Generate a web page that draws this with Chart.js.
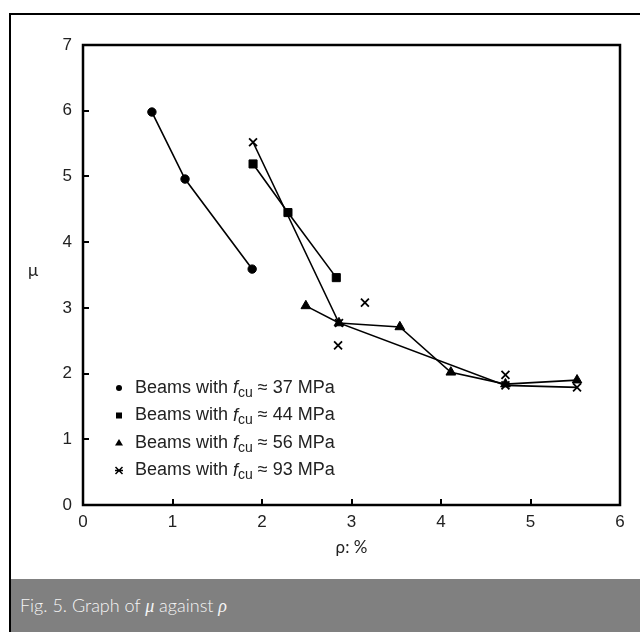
<!DOCTYPE html>
<html>
<head>
<meta charset="utf-8">
<script src="https://cdn.jsdelivr.net/npm/chart.js@4.4.1/dist/chart.umd.min.js"></script>
<style>
  html, body { margin: 0; padding: 0; background: #fff; }
  #wrap { position: relative; width: 640px; height: 632px; overflow: hidden; }
  #frame { position: absolute; left: 9px; top: 13px; width: 650px; height: 640px;
           border-left: 2.5px solid #000; border-top: 2.5px solid #000; }
  #cap { position: absolute; left: 11px; top: 579px; right: 0; bottom: 0; background: #808080;
         color: #f5f5f5; font: 300 18px Lato, 'Open Sans', sans-serif; padding-left: 9px; line-height: 53px; }
  #cap i { font-family: 'Liberation Serif', 'DejaVu Serif', serif; }
  #chart { position: absolute; left: 0; top: 0; }
</style>
</head>
<body>
<div id="wrap">
  <div id="frame"></div>
  <div id="cap">Fig. 5. Graph of <i>μ</i> against <i>ρ</i></div>
  <canvas id="chart" width="640" height="575"></canvas>
</div>
<script>
// ---- data ----
const rho37 = [0.77, 1.14, 1.89];
const mu37  = [5.98, 4.96, 3.59];
const rho44 = [1.90, 2.29, 2.83];
const mu44  = [5.19, 4.45, 3.46];
const rho56 = [2.49, 2.86, 3.54, 4.11, 4.72, 5.52];
const mu56  = [3.03, 2.77, 2.71, 2.02, 1.84, 1.90];
const rho93 = [1.90, 2.86, 4.72, 5.52];
const mu93  = [5.52, 2.77, 1.82, 1.79];
// single 93 MPa beams plotted without a line
const rho93Single = [2.85, 3.15, 4.72];
const mu93Single  = [2.43, 3.08, 1.98];

const xTicks = [0, 1, 2, 3, 4, 5, 6];
const yTicks = [0, 1, 2, 3, 4, 5, 6, 7];
const legendLabels = ['37', '44', '56', '93'];

const TXT = '#222';
const SANS = "'Liberation Sans', Arial, sans-serif";

function pts(xs, ys) { return xs.map((x, i) => ({ x: x, y: ys[i] })); }

function series(xs, ys, style, radius, line) {
  return {
    data: pts(xs, ys),
    showLine: line,
    borderColor: '#000',
    borderWidth: 1.6,
    pointStyle: style,
    pointRadius: radius,
    pointBackgroundColor: '#000',
    pointBorderColor: '#000',
    pointBorderWidth: style === 'crossRot' ? 1.8 : 1
  };
}

// small marker for legend rows
function marker(ctx, style, x, y) {
  ctx.beginPath();
  if (style === 'circle') {
    ctx.arc(x, y, 3, 0, Math.PI * 2); ctx.fill();
  } else if (style === 'rect') {
    ctx.fillRect(x - 3, y - 3, 6, 6);
  } else if (style === 'triangle') {
    ctx.moveTo(x, y - 4); ctx.lineTo(x + 4, y + 2.5); ctx.lineTo(x - 4, y + 2.5); ctx.closePath(); ctx.fill();
  } else {
    ctx.lineWidth = 1.5;
    ctx.moveTo(x - 3.5, y - 3.5); ctx.lineTo(x + 3.5, y + 3.5);
    ctx.moveTo(x + 3.5, y - 3.5); ctx.lineTo(x - 3.5, y + 3.5);
    ctx.moveTo(x - 4, y); ctx.lineTo(x + 4, y);
    ctx.stroke();
  }
}

function richText(ctx, x, y, parts) {
  parts.forEach(p => {
    ctx.font = p.font;
    ctx.fillText(p.t, x, y + (p.dy || 0));
    x += ctx.measureText(p.t).width;
  });
}

const decor = {
  id: 'decor',
  afterDraw(chart) {
    const { ctx, chartArea: a, scales: { x, y } } = chart;
    ctx.save();
    ctx.strokeStyle = '#000';
    ctx.lineWidth = 2.5;
    ctx.strokeRect(a.left, a.top, a.right - a.left, a.bottom - a.top);

    // inward ticks
    ctx.lineWidth = 2;
    ctx.beginPath();
    xTicks.slice(1, -1).forEach(v => {
      const px = Math.round(x.getPixelForValue(v));
      ctx.moveTo(px, a.bottom); ctx.lineTo(px, a.bottom - 6);
    });
    yTicks.slice(1, -1).forEach(v => {
      const py = Math.round(y.getPixelForValue(v));
      ctx.moveTo(a.left, py); ctx.lineTo(a.left + 6, py);
    });
    ctx.stroke();

    // axis titles
    ctx.fillStyle = TXT;
    ctx.textAlign = 'center';
    ctx.textBaseline = 'middle';
    ctx.font = "17px Lato, 'Open Sans', sans-serif";
    ctx.fillText('ρ: %', (a.left + a.right) / 2, 548);
    ctx.fillText('μ', 33, 271);

    // legend
    const styles = ['circle', 'rect', 'triangle', 'crossRot'];
    const rowY = [388, 415.5, 443, 470.5];
    ctx.textAlign = 'left';
    legendLabels.forEach((lab, i) => {
      ctx.fillStyle = '#000';
      ctx.strokeStyle = '#000';
      marker(ctx, styles[i], 119, rowY[i]);
      ctx.fillStyle = TXT;
      richText(ctx, 135, rowY[i], [
        { t: 'Beams with ', font: '18px ' + SANS },
        { t: 'f', font: 'italic 18px ' + SANS },
        { t: 'cu', font: '14px ' + SANS, dy: 5 },
        { t: ' ≈ ' + lab + ' MPa', font: '18px ' + SANS }
      ]);
    });
    ctx.restore();
  }
};

new Chart(document.getElementById('chart'), {
  type: 'scatter',
  data: {
    datasets: [
      series(rho37, mu37, 'circle', 4.2, true),
      series(rho44, mu44, 'rect', 5.7, true),
      series(rho56, mu56, 'triangle', 5.6, true),
      series(rho93, mu93, 'crossRot', 5.6, true),
      series(rho93Single, mu93Single, 'crossRot', 5.6, false)
    ]
  },
  options: {
    responsive: false,
    animation: false,
    devicePixelRatio: 1,
    layout: { padding: { top: 45, right: 20, left: 0, bottom: 0 } },
    plugins: { legend: { display: false }, tooltip: { enabled: false } },
    scales: {
      x: {
        type: 'linear', min: 0, max: 6,
        afterFit: s => { s.height = 70; },
        afterBuildTicks: s => { s.ticks = xTicks.map(v => ({ value: v })); },
        grid: { display: false, drawTicks: false },
        border: { display: false },
        ticks: { color: TXT, font: { family: SANS, size: 17 }, padding: 7 }
      },
      y: {
        type: 'linear', min: 0, max: 7,
        afterFit: s => { s.width = 83; },
        afterBuildTicks: s => { s.ticks = yTicks.map(v => ({ value: v })); },
        grid: { display: false, drawTicks: false },
        border: { display: false },
        ticks: { color: TXT, font: { family: SANS, size: 17 }, padding: 11 }
      }
    }
  },
  plugins: [decor]
});
</script>
</body>
</html>
